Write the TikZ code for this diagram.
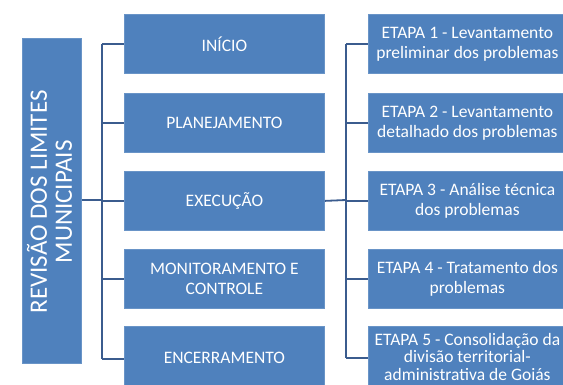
\documentclass[tikz,border=0pt]{standalone}
\usepackage{fontspec}
\setmainfont{Carlito}
\definecolor{boxblue}{HTML}{4F81BD}
\definecolor{linkblue}{HTML}{3B5C8E}
\begin{document}
\begin{tikzpicture}[x=1pt,y=-1pt,
  bx/.style={fill=boxblue,draw=boxblue!85!white,line width=0.8pt,text=white,align=center,inner sep=0pt,anchor=north west},
  link/.style={draw=linkblue,line width=1.8pt}]
\clip (0,0) rectangle (563,385);
\fill[white] (0,0) rectangle (563,385);
% left box
\node[bx,minimum width=59pt,minimum height=325pt] (root) at (22,38) {};
\node[rotate=90,text=white,align=center,font=\fontsize{25}{25}\selectfont] (roottxt) at ([xshift=-2.5pt,yshift=-1pt]root.center) {REVISÃO DOS LIMITES\\MUNICIPAIS};
% middle boxes
\foreach \n/\y/\t in {m1/14/INÍCIO, m2/93/PLANEJAMENTO, m3/171/EXECUÇÃO, m4/249/{MONITORAMENTO E\\CONTROLE}}{
  \node[bx,minimum width=200pt,minimum height=59pt,font=\fontsize{17.5}{20}\selectfont] (\n) at (124,\y) {\t};
}
\node[bx,minimum width=200pt,minimum height=62pt,font=\fontsize{17.5}{20}\selectfont] (m5) at (124,326) {ENCERRAMENTO};
% right boxes
\foreach \n/\y/\t in {e1/14/{ETAPA 1 - Levantamento\\preliminar dos problemas}, e2/93/{ETAPA 2 - Levantamento\\detalhado dos problemas}, e3/171/{ETAPA 3 - Análise técnica\\dos problemas}, e4/249/{ETAPA 4 - Tratamento dos\\problemas}}{
  \node[bx,minimum width=198pt,minimum height=59pt,font=\fontsize{17.5}{20}\selectfont] (\n) at (368,\y) {\t};
}
\node[bx,minimum width=198pt,minimum height=61pt,font=\fontsize{17.5}{17.8}\selectfont] (e5) at (368,326) {ETAPA 5 - Consolidação da\\divisão territorial-\\administrativa de Goiás};
% left bracket
\coordinate (lb) at (102,200);
\draw[link] (root.east |- lb) -- (lb);
\draw[link] (m1.west -| lb) -- ([yshift=-1.5pt]m5.west -| lb);
\foreach \n in {m1,m2,m3,m4}{ \draw[link] (\n.west -| lb) -- (\n.west); }
\draw[link] ([yshift=-1.5pt]m5.west -| lb) -- ([yshift=-1.5pt]m5.west);
% right bracket
\coordinate (rb) at (346,200);
\draw[link] (m3.east) -- (rb);
\draw[link] (e1.west -| rb) -- ([yshift=-1pt]e5.west -| rb);
\foreach \n in {e1,e2,e3,e4}{ \draw[link] (\n.west -| rb) -- (\n.west); }
\draw[link] ([yshift=-1pt]e5.west -| rb) -- ([yshift=-1pt]e5.west);
\end{tikzpicture}
\end{document}
